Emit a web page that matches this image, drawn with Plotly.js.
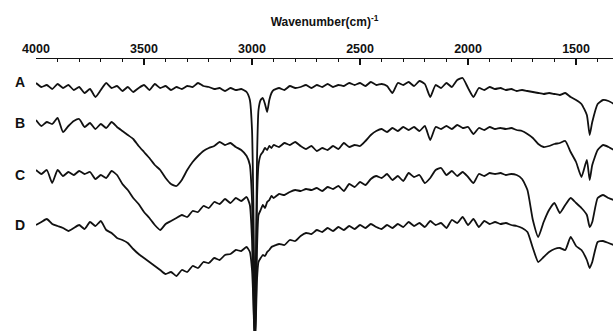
<!DOCTYPE html>
<html>
<head>
<meta charset="utf-8">
<script src="https://cdn.plot.ly/plotly-3.0.1.min.js"></script>
<style>html,body{margin:0;padding:0;background:#fff;}#chart{width:613px;height:331px;}</style>
</head>
<body>
<div id="chart"></div>
<script>
// Wavenumber grid (cm^-1)
const wavenumber = [4000,3975,3950,3925,3900,3875,3850,3825,3800,3775,3750,3725,3700,3675,3650,3625,3600,3575,3550,3525,3500,3475,3450,3425,3400,3375,3350,3325,3300,3275,3250,3225,3200,3175,3150,3125,3100,3075,3050,3025,
3010,3000,2994,2990,2986,2982,2977,2970,2960,2950,2940,2930,2920,2910,
2900,2875,2850,2825,2800,2775,2750,2725,2700,2675,2650,2625,2600,2575,2550,2525,2500,2475,2450,2425,2400,2375,2350,2325,2300,2275,2250,2225,2200,2175,2150,2125,2100,2075,2050,2025,2000,1975,1950,1925,1900,1875,1850,1825,1800,1775,1750,1725,1700,1675,1650,1625,1600,1575,1550,1525,1500,1475,1450,1437,1425,1400,1375,1350,1325];

// Offset absorbance-like signal (arbitrary units, larger = lower on the chart)
const spectrumA = [83,87,85,89,84,88,85,90,87,93,89,97,90,83,88,86,91,87,92,88,85,90,84,88,86,90,87,89,86,87,83,86,87,89,88,91,88,90,89,92,
100,130,200,270,300,260,160,110,100,98,104,112,100,93,
90,88,90,86,88,87,85,88,85,87,84,87,85,86,83,85,83,86,82,85,84,86,93,83,85,82,86,81,84,97,85,88,83,87,80,78,88,97,88,90,87,89,88,90,89,91,90,91,92,93,94,93,94,95,93,97,100,104,115,135,122,104,100,101,104];

const spectrumB = [120,126,122,124,118,132,126,121,119,127,123,129,124,128,122,127,131,135,139,146,152,158,165,170,178,184,186,180,170,162,156,151,148,146,142,145,143,147,150,156,
165,200,260,300,320,290,200,165,155,152,148,150,146,148,
145,147,143,145,142,146,149,146,151,148,150,146,149,143,147,145,146,141,135,131,129,132,128,131,127,130,127,131,126,140,127,129,126,129,125,128,127,134,128,130,127,129,128,129,128,130,131,134,138,144,147,146,144,143,141,152,162,177,160,180,165,150,145,147,150];

const spectrumC = [170,174,170,183,170,176,172,175,171,174,172,179,175,178,171,175,184,190,198,204,212,218,225,230,224,221,218,215,217,211,212,206,208,202,204,199,203,198,201,197,
205,240,290,325,335,310,250,215,210,205,208,202,200,196,
198,194,195,192,190,191,189,190,188,191,187,189,186,191,184,187,182,185,179,176,178,174,180,176,181,173,177,175,183,178,170,168,175,171,176,172,177,183,174,176,173,174,173,175,174,175,179,190,220,237,222,210,203,213,205,198,203,208,215,227,222,198,195,198,200];

const spectrumD = [225,222,219,224,226,228,231,228,225,229,222,226,221,230,233,238,240,243,249,254,258,262,266,270,274,272,276,270,272,266,268,262,263,258,260,255,254,250,251,247,
252,270,300,330,345,320,280,262,258,255,256,252,250,247,
246,244,245,240,241,236,233,234,230,232,228,231,227,230,226,229,225,228,224,227,229,225,228,224,227,222,226,223,227,221,225,223,228,220,223,217,225,219,227,221,224,222,224,223,225,226,228,232,248,262,257,252,249,248,250,237,246,250,260,268,262,242,241,243,245];

const sampleLabels = ['A','B','C','D'];
const seriesList = [spectrumA, spectrumB, spectrumC, spectrumD];
const labelLevels = [82, 123, 175, 225];

const traces = seriesList.map((s, i) => ({
  x: wavenumber, y: s, type: 'scatter', mode: 'lines', name: sampleLabels[i],
  line: {color: '#111111', width: 1.8, shape: 'spline', smoothing: 0.5}, hoverinfo: 'skip'
}));

const annotations = sampleLabels.map((t, i) => ({
  text: '<b>' + t + '</b>', xref: 'paper', yref: 'y', x: -0.027, y: labelLevels[i],
  xanchor: 'center', yanchor: 'middle', showarrow: false,
  font: {family: 'Liberation Sans, Arial, sans-serif', size: 14, color: '#111'}
}));

const layout = {
  width: 613, height: 331,
  margin: {l: 36, r: 0, t: 59, b: 0, pad: 0},
  paper_bgcolor: '#fff', plot_bgcolor: '#fff',
  showlegend: false,
  xaxis: {
    side: 'top', range: [4000, 1329], tick0: 0, dtick: 500,
    showline: true, linecolor: '#111', linewidth: 1.5, mirror: false,
    ticks: 'inside', ticklen: 6, tickwidth: 1.5, tickcolor: '#111',
    minor: {dtick: 100, ticks: 'inside', ticklen: 3, tickwidth: 1, tickcolor: '#111'},
    showgrid: false, zeroline: false,
    tickfont: {family: 'Liberation Sans, Arial, sans-serif', size: 12.5, color: '#111', weight: 'bold'},
    title: {text: 'Wavenumber(cm)<sup>-1</sup>', standoff: 12,
      font: {family: 'Liberation Sans, Arial, sans-serif', size: 12, color: '#111', weight: 'bold'}}
  },
  yaxis: {range: [331, 59], visible: false, showgrid: false, zeroline: false},
  annotations: annotations
};

Plotly.newPlot('chart', traces, layout, {staticPlot: true, displayModeBar: false});
</script>
</body>
</html>
